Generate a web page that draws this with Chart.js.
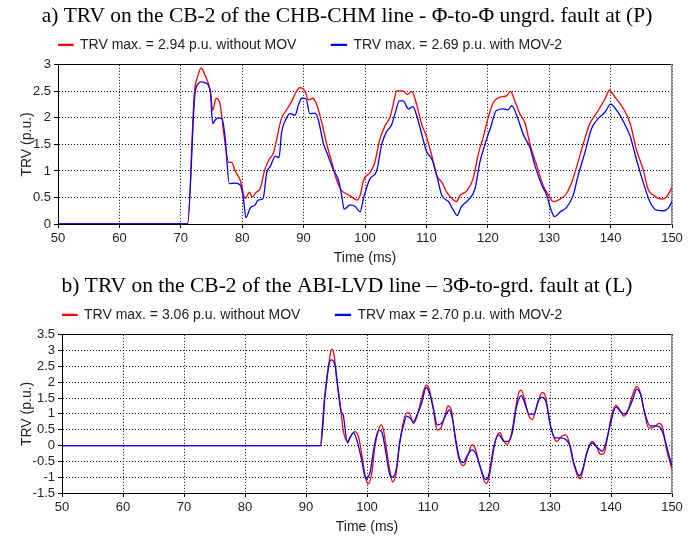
<!DOCTYPE html>
<html>
<head>
<meta charset="utf-8">
<script src="https://cdn.jsdelivr.net/npm/chart.js@4.4.1/dist/chart.umd.min.js"></script>
<style>
  body { margin: 0; background: #fff; }
  canvas { display: block; }
</style>
</head>
<body>
<canvas id="chartA" width="694" height="270"></canvas>
<canvas id="chartB" width="694" height="267"></canvas>
<script>
// a) CHB-CHM line, phase-to-phase ungrounded fault at (P)
const timeA_red = [50, 71.1, 72.2, 72.8, 73.3, 74.0, 74.8, 75.2, 75.75, 76.4, 77.0, 77.8, 78.3, 78.85, 79.7, 80.5, 81.2, 81.6, 82.3, 82.9,
  83.7, 84.4, 85.1, 85.6, 86.4, 87.0, 87.5, 88.1, 88.6, 89.4, 90.2, 90.8, 91.5, 92.2, 93.0, 93.8, 94.6, 95.4, 96.2, 97.0,
  97.85, 98.7, 99.2, 99.75, 100.8, 101.6, 102.4, 103.3, 104.1, 104.6, 105.2, 106.2, 106.9, 107.6, 108.4, 109.2, 110.0, 110.9, 111.7, 112.5,
  113.3, 114.4, 114.9, 115.5, 116.6, 117.6, 118.5, 119.3, 120.1, 120.9, 122.0, 123.1, 123.7, 124.4, 125.2, 126.1, 126.9, 128.0, 129.0, 129.9,
  130.7, 131.8, 132.8, 133.7, 134.5, 135.6, 136.6, 137.5, 138.3, 139.1, 139.8, 140.7, 142.1, 143.2, 144.2, 145.3, 146.1, 147.0, 148.3, 149.1, 150.0];
const trvA_red = [0, 0, 2.45, 2.8, 2.94, 2.79, 2.51, 2.14, 2.37, 2.26, 1.71, 1.16, 1.16, 1.0, 0.82, 0.48, 0.6, 0.51, 0.6, 0.66,
  1.03, 1.22, 1.34, 1.59, 1.99, 2.11, 2.2, 2.32, 2.45, 2.57, 2.51, 2.34, 2.37, 2.23, 1.89, 1.49, 1.16, 0.82, 0.63, 0.57,
  0.51, 0.45, 0.54, 0.82, 0.97, 1.16, 1.59, 1.86, 2.02, 2.26, 2.51, 2.51, 2.44, 2.5, 2.26, 1.89, 1.65, 1.28, 0.91, 0.79,
  0.6, 0.45, 0.42, 0.54, 0.63, 0.85, 1.34, 1.65, 2.02, 2.29, 2.39, 2.42, 2.5, 2.32, 2.08, 1.89, 1.49, 1.09, 0.73, 0.54,
  0.42, 0.47, 0.57, 0.79, 1.09, 1.53, 1.89, 2.05, 2.2, 2.36, 2.52, 2.39, 2.17, 1.89, 1.4, 1.03, 0.66, 0.54, 0.47, 0.51, 0.69];

const timeA_blue = [50, 71.1, 72.3, 72.9, 73.3, 74.0, 74.8, 75.2, 75.6, 76.1, 76.7, 77.2, 77.9, 78.85, 79.7, 80.2, 80.6, 81.3, 82.1, 82.6,
  83.4, 84.0, 84.6, 85.4, 86.0, 86.4, 87.2, 87.8, 88.6, 89.2, 89.7, 90.4, 91.0, 91.9, 92.4, 93.2, 94.0, 94.8, 95.7, 96.2,
  96.6, 97.6, 98.4, 99.2, 99.75, 100.8, 101.9, 102.7, 103.5, 104.3, 104.9, 105.6, 106.2, 107.1, 107.8, 108.4, 109.2, 110.0, 110.9, 111.7,
  112.5, 113.6, 114.4, 115.0, 115.7, 116.8, 117.9, 118.7, 119.5, 120.4, 121.4, 122.5, 123.3, 123.9, 124.7, 125.8, 126.9, 127.7, 128.8, 129.6,
  130.2, 130.9, 131.8, 132.8, 133.9, 134.7, 135.8, 136.9, 138.0, 139.1, 140.0, 141.0, 142.1, 143.2, 144.2, 145.3, 146.4, 147.5, 148.6, 149.4, 150.0];
const trvA_blue = [0, 0, 2.45, 2.65, 2.68, 2.66, 2.51, 1.89, 1.96, 2.0, 1.99, 1.65, 0.76, 0.77, 0.73, 0.48, 0.12, 0.3, 0.36, 0.45,
  0.48, 0.97, 1.09, 1.28, 1.25, 1.71, 1.99, 2.08, 2.05, 2.26, 2.37, 2.36, 2.08, 2.09, 1.96, 1.53, 1.28, 1.03, 0.82, 0.54,
  0.28, 0.36, 0.33, 0.23, 0.48, 0.85, 1.0, 1.49, 1.74, 1.86, 2.08, 2.32, 2.32, 2.17, 2.21, 2.05, 1.71, 1.37, 1.22, 0.91,
  0.54, 0.42, 0.26, 0.16, 0.33, 0.45, 0.66, 1.16, 1.49, 1.8, 2.14, 2.17, 2.15, 2.23, 2.05, 1.68, 1.43, 1.09, 0.73, 0.54,
  0.3, 0.14, 0.23, 0.31, 0.54, 0.91, 1.34, 1.8, 1.99, 2.11, 2.26, 2.14, 1.93, 1.65, 1.22, 0.79, 0.42, 0.26, 0.25, 0.3, 0.43];

// b) ABI-LVD line, 3-phase-to-ground fault at (L)
const timeB_red = [50, 92.3, 93.1, 93.8, 94.2, 94.6, 95.0, 95.6, 96.1, 96.8, 97.3, 98.0, 98.6, 99.1, 99.7, 100.2, 100.8, 101.3, 101.9, 102.3,
  102.7, 103.2, 103.8, 104.2, 104.8, 105.3, 105.8, 106.5, 106.9, 107.6, 108.1, 108.8, 109.3, 109.7, 110.2, 110.8, 111.5, 112.1, 112.8, 113.3,
  113.9, 114.4, 115.1, 115.8, 116.6, 117.2, 117.7, 118.5, 119.5, 120.0, 120.5, 121.1, 121.8, 122.3, 123.0, 123.7, 124.4, 124.9, 125.3, 125.8,
  126.6, 127.1, 127.7, 128.4, 128.7, 129.3, 129.8, 130.4, 131.1, 132.0, 132.6, 133.1, 133.7, 134.4, 134.9, 135.3, 136.0, 136.9, 137.6, 138.3,
  138.9, 139.4, 140.1, 140.8, 141.5, 142.1, 142.8, 143.5, 144.2, 144.8, 145.4, 146.2, 147.0, 147.9, 148.4, 149.1, 150.0];
const trvB_red = [0, 0, 1.63, 2.66, 3.05, 2.87, 2.14, 1.32, 0.49, 0.13, 0.29, 0.44, 0.29, -0.23, -0.95, -1.21, -0.85, -0.02, 0.49, 0.65,
  0.49, -0.12, -0.85, -1.15, -0.85, -0.02, 0.6, 1.03, 1.03, 0.7, 0.86, 1.37, 1.73, 1.91, 1.78, 1.22, 0.49, 0.55, 0.96, 1.25,
  1.06, 0.29, -0.43, -0.64, -0.28, 0.03, -0.07, -0.64, -1.2, -1.02, -0.43, 0.19, 0.41, 0.19, 0.03, 0.39, 1.22, 1.68, 1.75, 1.47,
  0.91, 0.82, 1.16, 1.58, 1.68, 1.53, 0.91, 0.39, 0.13, 0.31, 0.34, 0.13, -0.43, -0.9, -1.05, -0.85, -0.28, 0.13, -0.02, -0.28,
  -0.23, 0.24, 0.96, 1.27, 1.11, 0.93, 1.11, 1.58, 1.86, 1.68, 1.11, 0.55, 0.58, 0.7, 0.6, -0.12, -0.74];

const timeB_blue = [50, 92.4, 93.1, 93.9, 94.2, 94.8, 95.1, 95.7, 96.1, 96.8, 97.2, 97.8, 98.4, 99.1, 99.8, 100.5, 101.1, 101.9, 102.4, 103.1,
  103.7, 104.2, 104.9, 105.3, 106.0, 106.5, 107.1, 107.6, 108.3, 109.0, 109.7, 110.3, 110.9, 111.5, 112.2, 113.0, 113.5, 114.0, 114.6, 115.2,
  115.8, 116.4, 117.2, 117.9, 118.5, 119.3, 119.6, 120.0, 120.8, 121.6, 122.5, 123.1, 123.8, 124.5, 125.3, 125.8, 126.6, 127.4, 128.0, 128.7,
  129.4, 130.1, 130.9, 131.7, 132.6, 133.3, 133.9, 134.8, 135.3, 136.1, 136.9, 137.8, 138.6, 139.3, 140.2, 140.8, 141.6, 142.2, 142.9, 143.7,
  144.2, 144.9, 145.5, 146.4, 147.2, 148.0, 148.7, 149.4, 150.0];
const trvB_blue = [0, 0, 1.53, 2.66, 2.71, 2.5, 2.04, 1.11, 0.96, 0.08, 0.24, 0.41, 0.13, -0.43, -1.05, -0.85, -0.12, 0.49, 0.44, -0.23,
  -0.9, -1.0, -0.64, 0.03, 0.65, 0.93, 0.86, 0.75, 1.01, 1.37, 1.84, 1.63, 1.16, 0.65, 0.7, 0.99, 1.13, 0.86, 0.13, -0.43,
  -0.54, -0.33, -0.14, -0.28, -0.64, -1.05, -1.07, -0.9, -0.02, 0.34, 0.13, 0.13, 0.39, 1.22, 1.58, 1.37, 0.99, 0.99, 1.37, 1.53,
  1.34, 0.6, 0.24, 0.24, 0.19, -0.02, -0.54, -0.95, -0.79, -0.18, 0.08, -0.07, -0.18, 0.19, 0.91, 1.22, 1.06, 0.99, 1.16, 1.53,
  1.78, 1.58, 1.06, 0.62, 0.62, 0.58, 0.29, -0.23, -0.64];

Chart.defaults.font.family = "'Liberation Sans', Arial, sans-serif";
Chart.defaults.color = '#222';
Chart.defaults.animation = false;

function pts(xs, ys) {
  return xs.map((x, i) => ({ x: x, y: ys[i] }));
}

function makeChart(id, o) {
  const ctx = document.getElementById(id).getContext('2d');
  return new Chart(ctx, {
    type: 'line',
    data: {
      datasets: [{
        label: o.redLabel,
        data: pts(o.redT, o.redV),
        borderColor: '#ff0000',
        backgroundColor: '#ff0000',
        borderWidth: 1.3,
        pointRadius: 0,
        cubicInterpolationMode: 'monotone',
        order: 1
      }, {
        label: o.blueLabel,
        data: pts(o.blueT, o.blueV),
        borderColor: '#0000ff',
        backgroundColor: '#0000ff',
        borderWidth: 1.3,
        pointRadius: 0,
        cubicInterpolationMode: 'monotone',
        order: 0
      }]
    },
    options: {
      responsive: false,
      layout: { padding: 0 },
      plugins: {
        title: {
          display: true,
          text: o.title,
          color: '#000',
          font: { family: "'Liberation Serif', 'Times New Roman', serif", size: 21.5, weight: 'normal' },
          padding: { top: 3, bottom: 9 }
        },
        legend: {
          fullSize: false,
          align: 'start',
          labels: {
            boxWidth: 15,
            boxHeight: 1,
            padding: 0,
            color: '#222',
            font: { size: 14 },
            sort: (a, b) => a.datasetIndex - b.datasetIndex,
            generateLabels: (chart) => {
              const items = Chart.defaults.plugins.legend.labels.generateLabels(chart);
              // gap between the two entries
              items.forEach(it => { if (it.datasetIndex === 0) it.text += '         '; });
              return items;
            }
          }
        },
        tooltip: { enabled: false }
      },
      scales: {
        x: {
          type: 'linear',
          min: 50,
          max: 150,
          afterFit: (s) => { s.height = o.xHeight; },
          ticks: { stepSize: 10, maxRotation: 0, autoSkip: false, font: { size: 13 }, color: '#222' },
          grid: { color: '#000', tickColor: '#000', tickLength: 4 },
          border: { color: '#000', width: 1, dash: [1, 2] },
          title: { display: true, text: 'Time (ms)', font: { size: 14 }, color: '#222', padding: { top: 0, bottom: o.xTitlePad } }
        },
        xTop: {
          type: 'linear',
          axis: 'x',
          position: 'top',
          min: 50,
          max: 150,
          afterFit: (s) => { s.height = 3; },
          ticks: { display: false },
          grid: { display: false },
          border: { color: '#000', width: 1 }
        },
        y: {
          min: o.yMin,
          max: o.yMax,
          afterFit: (s) => { s.width = o.yWidth; },
          ticks: { stepSize: 0.5, autoSkip: false, font: { size: 13 }, color: '#222', callback: (v) => String(v) },
          grid: { color: '#000', tickColor: '#000', tickLength: 4 },
          border: { color: '#000', width: 1, dash: [1, 2] },
          title: { display: true, text: 'TRV (p.u.)', font: { size: 14 }, color: '#222', padding: { top: 19, bottom: 0 } }
        },
        yRight: {
          type: 'linear',
          axis: 'y',
          position: 'right',
          min: o.yMin,
          max: o.yMax,
          afterFit: (s) => { s.width = 22; },
          ticks: { display: false },
          grid: { display: false },
          border: { color: '#8c8c8c', width: 1.5 }
        }
      }
    }
  });
}

makeChart('chartA', {
  title: 'a) TRV on the CB-2 of the CHB-CHM line - Φ-to-Φ ungrd. fault at (P)',
  redLabel: 'TRV max. = 2.94 p.u. without MOV',
  blueLabel: 'TRV max. = 2.69 p.u. with MOV-2',
  redT: timeA_red, redV: trvA_red, blueT: timeA_blue, blueV: trvA_blue,
  yMin: 0, yMax: 3, yWidth: 58, xHeight: 46, xTitlePad: 3.6
});

makeChart('chartB', {
  title: 'b) TRV on the CB-2 of the ABI-LVD line – 3Φ-to-grd. fault at (L)',
  redLabel: 'TRV max. = 3.06 p.u. without MOV',
  blueLabel: 'TRV max = 2.70 p.u. with MOV-2',
  redT: timeB_red, redV: trvB_red, blueT: timeB_blue, blueV: trvB_blue,
  yMin: -1.5, yMax: 3.5, yWidth: 62, xHeight: 44, xTitlePad: 1.6
});
</script>
</body>
</html>
